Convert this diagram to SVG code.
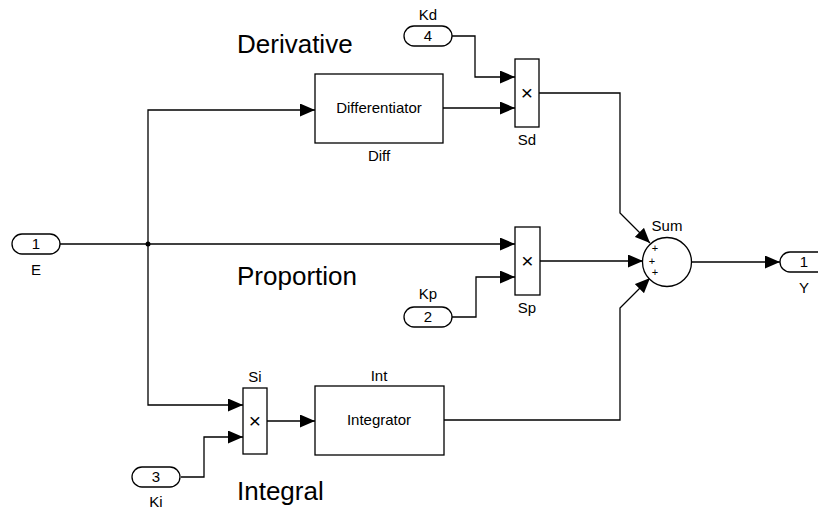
<svg xmlns="http://www.w3.org/2000/svg" width="818" height="509" viewBox="0 0 818 509">
<style>
text{font-family:"Liberation Sans",Arial,sans-serif;fill:#000}
.s{font-size:15px;text-anchor:middle}
.x{font-size:21px;text-anchor:middle}
.big{font-size:26px}
.pl{font-size:11px;text-anchor:middle}
.blk{fill:#fff;stroke:#000;stroke-width:1.3}
.w{fill:none;stroke:#000;stroke-width:1.3}
</style>
<defs>
<marker id="ar" markerUnits="userSpaceOnUse" markerWidth="15" markerHeight="13" refX="15" refY="6.5" orient="auto">
<path d="M0,0 L15,6.5 L0,13 Z" fill="#000"/>
</marker>
</defs>
<rect width="818" height="509" fill="#fff"/>
<text class="big" x="237" y="53">Derivative</text>
<text class="big" x="237" y="285">Proportion</text>
<text class="big" x="237" y="500">Integral</text>
<g id="connectors">
<polyline class="w" points="60,244 515,244" marker-end="url(#ar)"/>
<polyline class="w" points="148,244 148,110 315,110" marker-end="url(#ar)"/>
<polyline class="w" points="148,244 148,405 243,405" marker-end="url(#ar)"/>
<circle cx="148" cy="244" r="2.5" fill="#000"/>
<polyline class="w" points="443,108 515,108" marker-end="url(#ar)"/>
<polyline class="w" points="452,36 475,36 475,77 515,77" marker-end="url(#ar)"/>
<polyline class="w" points="452,317 476,317 476,277 515,277" marker-end="url(#ar)"/>
<polyline class="w" points="181,477 204,477 204,437 243,437" marker-end="url(#ar)"/>
<polyline class="w" points="267,421 315,421" marker-end="url(#ar)"/>
<polyline class="w" points="539,93 620,93 620,213 650,243" marker-end="url(#ar)"/>
<polyline class="w" points="540,261 643,261" marker-end="url(#ar)"/>
<polyline class="w" points="444,420 620,420 620,308 650,278" marker-end="url(#ar)"/>
<polyline class="w" points="692,262 780,262" marker-end="url(#ar)"/>
</g>
<g id="E">
<rect class="blk" x="12" y="234" width="48" height="20" rx="10"/>
<text class="s" x="36" y="249">1</text>
<text class="s" x="36" y="275">E</text>
</g>
<g id="Kd">
<rect class="blk" x="404" y="26" width="48" height="20" rx="10"/>
<text class="s" x="428" y="41">4</text>
<text class="s" x="428" y="20">Kd</text>
</g>
<g id="Kp">
<rect class="blk" x="404" y="307" width="48" height="20" rx="10"/>
<text class="s" x="428" y="322">2</text>
<text class="s" x="428" y="299">Kp</text>
</g>
<g id="Ki">
<rect class="blk" x="132" y="467" width="48" height="20" rx="10"/>
<text class="s" x="156" y="482">3</text>
<text class="s" x="156" y="507">Ki</text>
</g>
<g id="Diff">
<rect class="blk" x="315" y="74" width="128" height="69"/>
<text class="s" x="379" y="113">Differentiator</text>
<text class="s" x="379" y="161">Diff</text>
</g>
<g id="Int">
<rect class="blk" x="315" y="386" width="129" height="69"/>
<text class="s" x="379" y="425">Integrator</text>
<text class="s" x="379" y="381">Int</text>
</g>
<g id="Sd">
<rect class="blk" x="515" y="59" width="24" height="68"/>
<text class="x" x="527" y="100">×</text>
<text class="s" x="527" y="145">Sd</text>
</g>
<g id="Sp">
<rect class="blk" x="515" y="227" width="25" height="68"/>
<text class="x" x="527.5" y="268">×</text>
<text class="s" x="527" y="313">Sp</text>
</g>
<g id="Si">
<rect class="blk" x="243" y="388" width="24" height="66"/>
<text class="x" x="255" y="428">×</text>
<text class="s" x="255" y="382">Si</text>
</g>
<g id="Sum">
<circle class="blk" cx="667" cy="262" r="24.5"/>
<text class="pl" x="655" y="252">+</text>
<text class="pl" x="652" y="265">+</text>
<text class="pl" x="655" y="276">+</text>
<text class="s" x="667" y="231">Sum</text>
</g>
<g id="Y">
<rect class="blk" x="780" y="252" width="48" height="20" rx="10"/>
<text class="s" x="804" y="267">1</text>
<text class="s" x="804" y="293">Y</text>
</g>
</svg>
